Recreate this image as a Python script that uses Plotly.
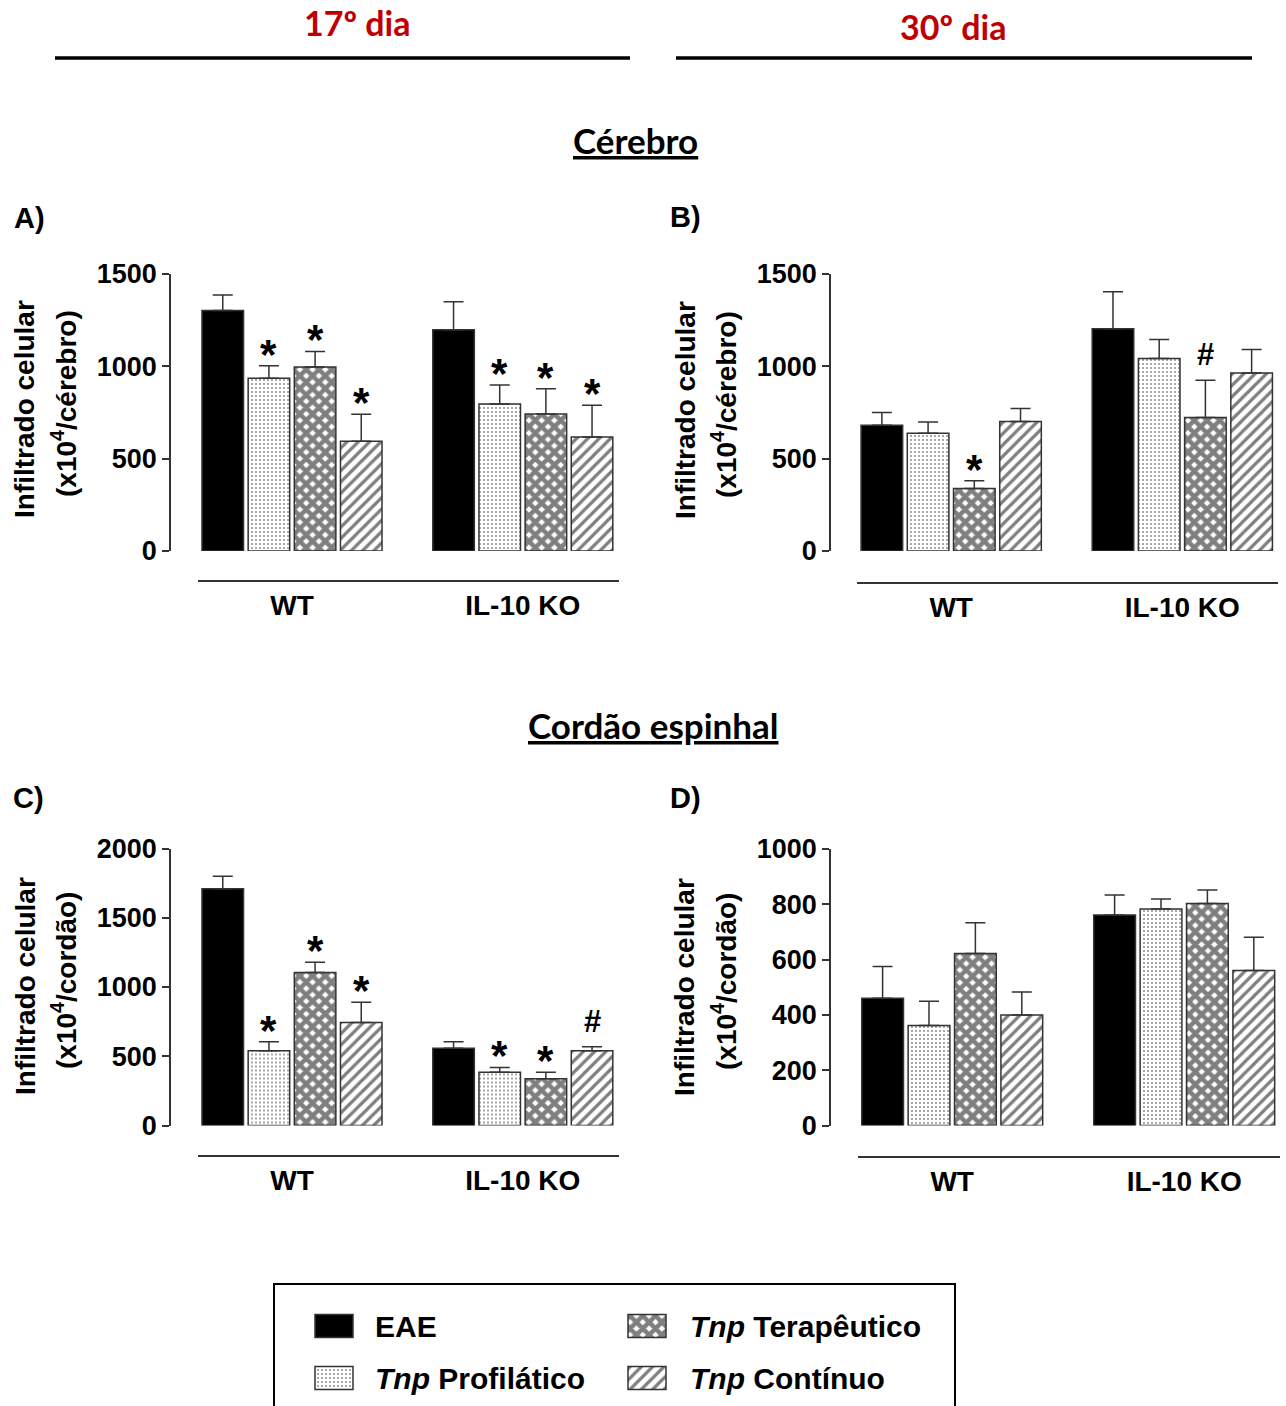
import plotly.graph_objects as go

W, H = 1286, 1406

# ---------------- data ----------------
groups = ["WT", "IL-10 KO"]
treatments = ["EAE", "Tnp Profilático", "Tnp Terapêutico", "Tnp Contínuo"]

# Panel A - Cérebro, 17º dia  (mean per group, SEM per group)
a_eae_mean = [1303, 1198]
a_eae_sem = [83, 152]
a_prof_mean = [935, 796]
a_prof_sem = [68, 103]
a_ter_mean = [996, 742]
a_ter_sem = [85, 137]
a_cont_mean = [594, 617]
a_cont_sem = [146, 172]
a_marks = [["", "*", "*", "*"], ["", "*", "*", "*"]]

# Panel B - Cérebro, 30º dia
b_eae_mean = [681, 1203]
b_eae_sem = [69, 201]
b_prof_mean = [638, 1042]
b_prof_sem = [61, 103]
b_ter_mean = [339, 723]
b_ter_sem = [41, 201]
b_cont_mean = [701, 964]
b_cont_sem = [71, 127]
b_marks = [["", "", "*", ""], ["", "", "#", ""]]

# Panel C - Cordão espinhal, 17º dia
c_eae_mean = [1709, 558]
c_eae_sem = [91, 46]
c_prof_mean = [539, 385]
c_prof_sem = [65, 34]
c_ter_mean = [1105, 337]
c_ter_sem = [74, 48]
c_cont_mean = [744, 539]
c_cont_sem = [146, 29]
c_marks = [["", "*", "*", "*"], ["", "*", "*", "#"]]

# Panel D - Cordão espinhal, 30º dia
d_eae_mean = [460, 761]
d_eae_sem = [115, 73]
d_prof_mean = [362, 783]
d_prof_sem = [87, 36]
d_ter_mean = [622, 803]
d_ter_sem = [111, 49]
d_cont_mean = [400, 561]
d_cont_sem = [83, 120]
d_marks = [["", "", "", ""], ["", "", "", ""]]

a_ticks = [0, 500, 1000, 1500]
b_ticks = [0, 500, 1000, 1500]
c_ticks = [0, 500, 1000, 1500, 2000]
d_ticks = [0, 200, 400, 600, 800, 1000]

# ---------------- styles ----------------
FONT = "Liberation Sans, Arial, sans-serif"
TFONT = "Lato, Open Sans, sans-serif"
AX = "#333333"

styles = [
    dict(color="black", pattern=None),
    dict(color="white", pattern=dict(shape=".", fgcolor="black", bgcolor="white",
                                      size=4, solidity=0.16, fillmode="overlay")),
    dict(color="white", pattern=dict(shape="x", fgcolor="black", bgcolor="white",
                                      size=9, solidity=0.75, fillmode="overlay")),
    dict(color="white", pattern=dict(shape="/", fgcolor="black", bgcolor="white",
                                      size=8, solidity=0.4, fillmode="overlay")),
]

BARGAP = 0.2
BARGROUPGAP = 0.1


def px_x(p):
    return p / W


def px_y(p):
    return 1 - p / H


panels = [
    dict(means=[a_eae_mean, a_prof_mean, a_ter_mean, a_cont_mean],
         sems=[a_eae_sem, a_prof_sem, a_ter_sem, a_cont_sem], marks=a_marks,
         ticks=a_ticks, ytop=274, ybot=551, yx=170, xline=581,
         xd0=198, xd1=619, c0=292, c1=522.8,
         unit="(x10<sup>4</sup>/cérebro)", t1x=25, t2x=64, tcy=409,
         letter="A)", lx=29, ly=218),
    dict(means=[b_eae_mean, b_prof_mean, b_ter_mean, b_cont_mean],
         sems=[b_eae_sem, b_prof_sem, b_ter_sem, b_cont_sem], marks=b_marks,
         ticks=b_ticks, ytop=274, ybot=551, yx=830, xline=583,
         xd0=857, xd1=1278, c0=951.2, c1=1182.3,
         unit="(x10<sup>4</sup>/cérebro)", t1x=685, t2x=724, tcy=410,
         letter="B)", lx=685, ly=217),
    dict(means=[c_eae_mean, c_prof_mean, c_ter_mean, c_cont_mean],
         sems=[c_eae_sem, c_prof_sem, c_ter_sem, c_cont_sem], marks=c_marks,
         ticks=c_ticks, ytop=848.5, ybot=1125.5, yx=170, xline=1156,
         xd0=198, xd1=619, c0=292, c1=522.8,
         unit="(x10<sup>4</sup>/cordão)", t1x=25, t2x=64, tcy=986,
         letter="C)", lx=28, ly=798),
    dict(means=[d_eae_mean, d_prof_mean, d_ter_mean, d_cont_mean],
         sems=[d_eae_sem, d_prof_sem, d_ter_sem, d_cont_sem], marks=d_marks,
         ticks=d_ticks, ytop=849, ybot=1125.5, yx=830, xline=1157,
         xd0=858, xd1=1280, c0=952.2, c1=1184.2,
         unit="(x10<sup>4</sup>/cordão)", t1x=685, t2x=724, tcy=987,
         letter="D)", lx=685, ly=798),
]

fig = go.Figure()
annotations = []
shapes = []
layout_axes = {}

slot = (1 - BARGAP) / 4

for pi, p in enumerate(panels):
    n = pi + 1
    xname = "x" if n == 1 else f"x{n}"
    yname = "y" if n == 1 else f"y{n}"
    for ti, name in enumerate(treatments):
        st = styles[ti]
        marker = dict(color=st["color"], line=dict(color=AX, width=1.5))
        if st["pattern"]:
            marker["pattern"] = st["pattern"]
        fig.add_trace(go.Bar(
            x=groups, y=p["means"][ti], name=name, xaxis=xname, yaxis=yname,
            marker=marker, showlegend=False,
            error_y=dict(type="data", symmetric=False, array=p["sems"][ti],
                         arrayminus=[0, 0], color=AX, thickness=1.5, width=10),
        ))
        for gi in range(2):
            m = p["marks"][gi][ti]
            if m:
                top = p["means"][ti][gi] + p["sems"][ti][gi]
                xpos = gi + (ti - 1.5) * slot
                if m == "*":
                    annotations.append(dict(x=xpos, y=top, xref=xname, yref=yname,
                                            text="<b>*</b>", showarrow=False,
                                            yanchor="bottom", yshift=-14,
                                            font=dict(family=FONT, size=42, color="black")))
                else:
                    annotations.append(dict(x=xpos, y=top, xref=xname, yref=yname,
                                            text="<b>#</b>", showarrow=False,
                                            yanchor="bottom", yshift=6,
                                            font=dict(family=FONT, size=31, color="black")))
    k = p["c1"] - p["c0"]
    xr = [-(p["c0"] - p["xd0"]) / k, 1 + (p["xd1"] - p["c1"]) / k]
    ymax = p["ticks"][-1]
    layout_axes["xaxis" if n == 1 else f"xaxis{n}"] = dict(
        domain=[px_x(p["xd0"]), px_x(p["xd1"])], anchor="free",
        position=px_y(p["xline"]), range=xr, type="category",
        showline=True, linecolor=AX, linewidth=1.5, ticks="", showgrid=False,
        zeroline=False, tickfont=dict(family=FONT, size=28, color="black", weight="bold"),
        fixedrange=True,
    )
    layout_axes["yaxis" if n == 1 else f"yaxis{n}"] = dict(
        domain=[px_y(p["ybot"]), px_y(p["ytop"])], anchor="free",
        position=px_x(p["yx"]), range=[0, ymax], tickvals=p["ticks"],
        ticktext=[str(t) for t in p["ticks"]],
        showline=True, linecolor=AX, linewidth=1.5, ticks="outside", ticklen=7,
        tickwidth=1.5, tickcolor=AX, showgrid=False, zeroline=False,
        tickfont=dict(family=FONT, size=27, color="black", weight="bold"),
        fixedrange=True,
    )
    # y titles
    annotations.append(dict(x=px_x(p["t1x"]), y=px_y(p["tcy"]), xref="paper", yref="paper",
                            text="<b>Infiltrado celular</b>", textangle=-90, showarrow=False,
                            xanchor="center", yanchor="middle",
                            font=dict(family=FONT, size=28, color="black")))
    annotations.append(dict(x=px_x(p["t2x"]), y=px_y(p["tcy"] - 5), xref="paper", yref="paper",
                            text="<b>" + p["unit"] + "</b>", textangle=-90, showarrow=False,
                            xanchor="center", yanchor="middle",
                            font=dict(family=FONT, size=28, color="black")))
    annotations.append(dict(x=px_x(p["lx"]), y=px_y(p["ly"]), xref="paper", yref="paper",
                            text="<b>" + p["letter"] + "</b>", showarrow=False,
                            xanchor="center", yanchor="middle",
                            font=dict(family=FONT, size=29, color="black")))

# ---------------- headers ----------------
RED = "#C00000"
annotations.append(dict(x=px_x(357), y=px_y(22), xref="paper", yref="paper",
                        text="<b>17º dia</b>", showarrow=False, xanchor="center", yanchor="middle",
                        font=dict(family=TFONT, size=34, color=RED)))
annotations.append(dict(x=px_x(954), y=px_y(26), xref="paper", yref="paper",
                        text="<b>30º dia</b>", showarrow=False, xanchor="center", yanchor="middle",
                        font=dict(family=TFONT, size=34, color=RED)))
shapes.append(dict(type="line", xref="paper", yref="paper", x0=px_x(55), x1=px_x(630),
                   y0=px_y(58), y1=px_y(58), line=dict(color="black", width=3.5)))
shapes.append(dict(type="line", xref="paper", yref="paper", x0=px_x(676), x1=px_x(1252),
                   y0=px_y(58), y1=px_y(58), line=dict(color="black", width=3.5)))
annotations.append(dict(x=px_x(635), y=px_y(140), xref="paper", yref="paper",
                        text="<b><u>Cérebro</u></b>", showarrow=False, xanchor="center",
                        yanchor="middle", font=dict(family=TFONT, size=35, color="black")))
annotations.append(dict(x=px_x(653), y=px_y(725), xref="paper", yref="paper",
                        text="<b><u>Cordão espinhal</u></b>", showarrow=False, xanchor="center",
                        yanchor="middle", font=dict(family=TFONT, size=35, color="black")))

# ---------------- legend (custom, large swatches) ----------------
LEG_X0, LEG_X1, LEG_Y0 = 274, 955, 1284
shapes.append(dict(type="rect", xref="paper", yref="paper", x0=px_x(LEG_X0), x1=px_x(LEG_X1),
                   y0=px_y(LEG_Y0), y1=px_y(1430), line=dict(color="black", width=2),
                   fillcolor="rgba(0,0,0,0)"))
# legend layout: column swatch centres / text starts, row centres (pixels)
leg_cols = [334, 647]
leg_text_x = [373, 688]
leg_rows = [1326, 1378]
leg_slots = [(0, 0), (1, 0), (0, 1), (1, 1)]  # (row, col) for each treatment
leg_labels = ["EAE", "<i>Tnp</i> Profilático", "<i>Tnp</i> Terapêutico", "<i>Tnp</i> Contínuo"]
SW_W, SW_H = 38, 23
for ti in range(4):
    r, c = leg_slots[ti]
    st = styles[ti]
    marker = dict(color=st["color"], line=dict(color=AX, width=1.5))
    if st["pattern"]:
        marker["pattern"] = st["pattern"]
    cy = H - leg_rows[r]
    fig.add_trace(go.Bar(x=[leg_cols[c]], y=[SW_H], base=[cy - SW_H / 2], width=[SW_W],
                         offset=[-SW_W / 2], xaxis="x5", yaxis="y5", marker=marker,
                         showlegend=False, hoverinfo="skip"))
    annotations.append(dict(x=px_x(leg_text_x[c]), y=px_y(leg_rows[r]), xref="paper", yref="paper",
                            text="<b>" + leg_labels[ti] + "</b>", showarrow=False,
                            xanchor="left", yanchor="middle",
                            font=dict(family=FONT, size=30, color="black")))
layout_axes["xaxis5"] = dict(domain=[0, 1], range=[0, W], visible=False, anchor="y5",
                             fixedrange=True)
layout_axes["yaxis5"] = dict(domain=[0, px_y(LEG_Y0)], range=[0, H - LEG_Y0], visible=False,
                             anchor="x5", fixedrange=True)

fig.update_layout(
    width=W, height=H, margin=dict(l=0, r=0, t=0, b=0, autoexpand=False),
    paper_bgcolor="white", plot_bgcolor="rgba(0,0,0,0)",
    barmode="group", bargap=BARGAP, bargroupgap=BARGROUPGAP,
    showlegend=False, annotations=annotations, shapes=shapes,
    font=dict(family=FONT, color="black"),
    **layout_axes,
)

fig.write_html("out.html")
